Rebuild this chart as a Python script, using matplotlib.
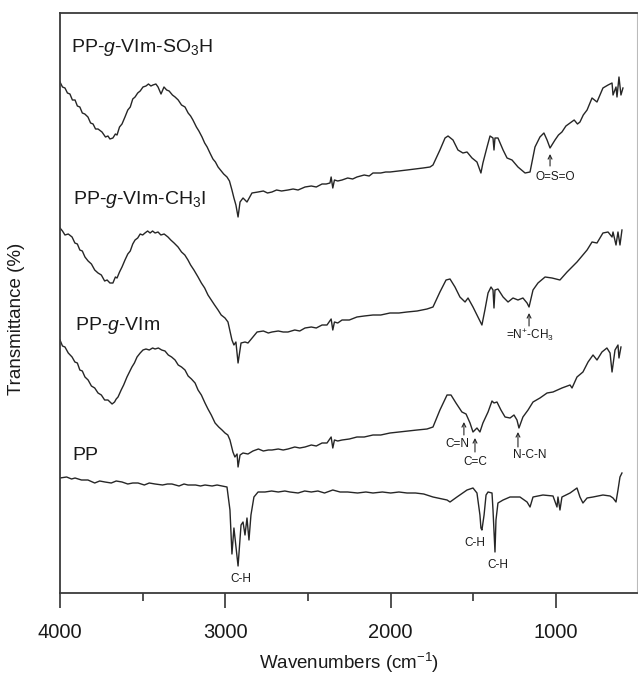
import numpy as np
import matplotlib
matplotlib.use("Agg")
import matplotlib.pyplot as plt

plt.rcParams['font.family'] = ['Liberation Sans', 'DejaVu Sans']
plt.rcParams['mathtext.fontset'] = 'custom'
plt.rcParams['mathtext.rm'] = 'Liberation Sans'
plt.rcParams['mathtext.it'] = 'Liberation Sans:italic'
plt.rcParams['mathtext.bf'] = 'Liberation Sans:bold'

# FTIR spectra, stacked (arbitrary transmittance units)
wn_so3h = [4000, 3985, 3970, 3955, 3940, 3925, 3909, 3895, 3880, 3865, 3850, 3831, 3815,
           3800, 3785, 3770, 3746, 3725, 3710, 3698, 3680, 3665, 3655, 3640, 3625, 3607,
           3590, 3575, 3560, 3546, 3530, 3515, 3498, 3480, 3465, 3450, 3438, 3420, 3407,
           3389, 3371, 3355, 3340, 3320, 3304, 3285, 3265, 3244, 3225, 3210, 3196, 3175,
           3160, 3141, 3125, 3110, 3093, 3075, 3060, 3044, 3025, 3010, 2990, 2975, 2960,
           2948, 2936, 2923, 2911, 2893, 2869, 2839, 2802, 2770, 2745, 2718, 2690, 2660,
           2621, 2590, 2560, 2518, 2480, 2450, 2415, 2390, 2367, 2360, 2350, 2340, 2320,
           2294, 2260, 2230, 2204, 2160, 2130, 2107, 2060, 2030, 2004, 1950, 1901, 1850,
           1804, 1762, 1744, 1702, 1671, 1653, 1623, 1593, 1563, 1538, 1508, 1478, 1454,
           1442, 1417, 1399, 1381, 1375, 1369, 1351, 1320, 1296, 1266, 1230, 1187, 1157,
           1127, 1097, 1073, 1054, 1036, 1006, 985, 964, 940, 915, 890, 870, 855, 835, 812,
           782, 752, 716, 685, 661, 655, 637, 631, 619, 607, 595]
t_so3h = [51.1, 50.6, 50.5, 50.0, 49.9, 49.3, 49.3, 48.7, 48.6, 48.0, 47.9, 47.6, 47.0,
          46.9, 46.4, 46.4, 46.1, 45.6, 45.7, 45.4, 45.5, 45.9, 45.8, 46.6, 46.9, 47.6,
          48.3, 48.6, 49.4, 49.6, 50.0, 50.2, 50.6, 50.7, 50.9, 50.7, 50.8, 50.9, 50.6,
          49.9, 50.6, 50.3, 50.2, 49.8, 49.6, 49.3, 48.8, 48.6, 48.0, 47.7, 47.3, 46.6,
          46.2, 45.6, 45.0, 44.6, 44.0, 43.4, 43.1, 42.6, 42.2, 41.9, 41.6, 41.2, 40.3,
          39.5, 38.8, 37.6, 39.1, 39.5, 39.1, 40.0, 40.1, 40.2, 40.0, 40.1, 40.3, 40.2,
          40.3, 40.4, 40.3, 40.6, 40.7, 40.6, 40.9, 40.9, 41.0, 41.6, 40.5, 41.3, 41.2,
          41.3, 41.5, 41.4, 41.6, 41.8, 41.7, 42.0, 42.0, 42.1, 42.1, 42.2, 42.3, 42.4,
          42.5, 42.6, 42.8, 44.3, 45.5, 45.7, 45.3, 44.3, 44.0, 44.1, 43.5, 43.1, 42.0,
          43.0, 44.6, 45.7, 45.5, 44.3, 45.5, 45.5, 44.3, 43.5, 43.3, 42.6, 42.0, 42.1,
          44.6, 45.6, 46.0, 45.3, 44.5, 45.3, 45.8, 46.1, 46.7, 47.0, 47.3, 46.9, 47.1, 47.8, 48.3,
          49.5, 49.1, 50.5, 50.8, 51.0, 49.8, 50.6, 49.6, 51.6, 49.8, 50.5]

wn_ch3i = [4000, 3985, 3970, 3950, 3927, 3910, 3895, 3880, 3865, 3849, 3830, 3810, 3790,
           3770, 3750, 3730, 3715, 3698, 3680, 3665, 3655, 3640, 3625, 3607, 3590, 3575,
           3560, 3546, 3530, 3515, 3500, 3486, 3470, 3455, 3440, 3425, 3407, 3390, 3370,
           3347, 3330, 3310, 3286, 3265, 3245, 3226, 3210, 3190, 3165, 3145, 3125, 3105,
           3085, 3065, 3044, 3025, 3002, 2984, 2960, 2948, 2936, 2923, 2905, 2881, 2863,
           2833, 2808, 2770, 2740, 2718, 2680, 2650, 2621, 2580, 2550, 2518, 2480, 2450,
           2415, 2385, 2360, 2350, 2340, 2320, 2294, 2250, 2204, 2160, 2107, 2060, 2004,
           1950, 1901, 1840, 1780, 1744, 1702, 1665, 1641, 1611, 1581, 1550, 1532, 1502,
           1472, 1448, 1430, 1411, 1393, 1381, 1375, 1369, 1351, 1320, 1290, 1260, 1230,
           1200, 1175, 1163, 1139, 1109, 1066, 1024, 976, 933, 873, 812, 782, 752, 716, 685,
           661, 655, 637, 625, 613, 601]
t_ch3i = [36.5, 36.2, 35.8, 35.9, 35.6, 35.0, 34.9, 34.3, 34.2, 33.6, 33.2, 32.9, 32.3,
          32.0, 31.8, 31.2, 31.3, 31.0, 31.0, 31.6, 31.5, 32.1, 32.6, 33.3, 33.9, 34.2,
          34.9, 35.3, 35.5, 35.9, 35.8, 36.0, 36.2, 36.0, 36.2, 36.0, 36.1, 35.8, 35.9,
          35.6, 35.3, 35.0, 34.6, 34.1, 33.8, 33.3, 32.8, 32.3, 31.6, 31.0, 30.5, 29.8,
          29.3, 28.8, 28.3, 27.8, 27.5, 27.1, 25.3, 24.8, 25.1, 23.0, 25.0, 25.1, 25.0,
          25.6, 26.1, 26.2, 26.0, 26.1, 26.2, 26.1, 26.1, 26.3, 26.2, 26.5, 26.6, 26.5,
          26.8, 26.8, 27.4, 26.3, 27.1, 27.0, 27.3, 27.3, 27.6, 27.7, 27.8, 27.8, 28.0,
          28.0, 28.1, 28.2, 28.4, 28.6, 30.1, 31.3, 31.4, 30.6, 29.6, 29.1, 29.5, 28.6,
          27.6, 26.8, 28.3, 30.0, 30.6, 30.3, 28.5, 30.3, 30.4, 29.6, 29.1, 29.5, 29.3,
          29.5, 29.0, 28.6, 30.3, 31.0, 31.6, 31.5, 31.3, 32.1, 33.1, 34.3, 35.1, 35.0, 36.0, 36.1,
          35.6, 36.1, 34.8, 36.1, 34.8, 36.3]

wn_vim = [4000, 3985, 3970, 3950, 3927, 3910, 3895, 3880, 3865, 3849, 3830, 3810, 3790,
          3770, 3750, 3730, 3710, 3685, 3670, 3660, 3649, 3630, 3615, 3595, 3580, 3565,
          3550, 3534, 3515, 3498, 3480, 3460, 3440, 3425, 3405, 3385, 3365, 3345, 3325,
          3304, 3285, 3265, 3244, 3225, 3205, 3183, 3165, 3145, 3123, 3105, 3085, 3062,
          3040, 3020, 3002, 2985, 2972, 2954, 2942, 2929, 2923, 2911, 2893, 2863, 2833,
          2800, 2770, 2740, 2718, 2680, 2650, 2621, 2580, 2550, 2518, 2480, 2450, 2415,
          2385, 2360, 2350, 2340, 2320, 2294, 2250, 2204, 2160, 2107, 2060, 2004, 1950,
          1901, 1840, 1780, 1744, 1702, 1659, 1635, 1605, 1569, 1544, 1520, 1502, 1478,
          1460, 1442, 1411, 1387, 1375, 1357, 1333, 1308, 1278, 1254, 1236, 1224, 1200,
          1169, 1139, 1097, 1054, 1018, 964, 915, 903, 873, 837, 806, 776, 752, 722, 692,
          673, 661, 643, 625, 619, 607]
t_vim = [25.3, 24.7, 24.6, 24.0, 23.6, 23.1, 23.0, 22.3, 22.2, 21.6, 21.3, 20.7, 20.5,
         20.0, 19.8, 19.3, 19.3, 18.9, 19.1, 19.4, 19.6, 20.3, 20.8, 21.6, 22.1, 22.6,
         23.0, 23.6, 24.0, 24.3, 24.4, 24.3, 24.5, 24.4, 24.5, 24.3, 24.2, 23.8, 23.6,
         23.3, 22.8, 22.6, 22.3, 21.7, 21.4, 21.0, 20.3, 19.8, 19.0, 18.4, 17.8, 17.0,
         16.6, 16.3, 16.0, 15.8, 15.3, 14.1, 13.6, 13.9, 12.6, 13.8, 14.0, 13.9, 14.2,
         14.4, 14.2, 14.3, 14.3, 14.4, 14.3, 14.4, 14.6, 14.5, 14.6, 14.8, 14.7, 15.0,
         15.0, 15.6, 14.5, 15.3, 15.2, 15.3, 15.4, 15.6, 15.6, 15.8, 15.8, 16.0, 16.1,
         16.2, 16.3, 16.4, 16.6, 18.3, 19.8, 19.8, 19.0, 18.1, 17.9, 17.0, 16.1, 16.5,
         16.1, 17.0, 18.1, 19.2, 19.0, 19.1, 18.3, 17.6, 17.5, 17.8, 17.3, 16.5, 17.6,
         18.3, 19.1, 19.5, 20.0, 20.1, 20.5, 20.8, 20.5, 21.6, 22.1, 23.1, 23.8, 23.3, 24.1, 24.5,
         24.0, 22.1, 24.3, 24.8, 23.5, 24.6]

wn_pp = [4000, 3960, 3930, 3909, 3870, 3831, 3790, 3760, 3728, 3690, 3660, 3625, 3590,
         3560, 3528, 3490, 3460, 3425, 3380, 3350, 3323, 3280, 3250, 3226, 3180, 3150,
         3123, 3080, 3050, 3020, 2990, 2972, 2960, 2948, 2923, 2905, 2893, 2881, 2869,
         2857, 2845, 2827, 2802, 2760, 2720, 2680, 2640, 2609, 2560, 2520, 2480, 2440,
         2400, 2350, 2306, 2260, 2200, 2150, 2107, 2050, 2000, 1950, 1901, 1850, 1800,
         1744, 1659, 1641, 1599, 1538, 1502, 1478, 1460, 1454, 1448, 1435, 1423, 1411,
         1387, 1381, 1369, 1363, 1351, 1320, 1278, 1218, 1175, 1157, 1139, 1079, 1018,
         994, 988, 976, 964, 915, 873, 855, 837, 812, 776, 716, 673, 655, 637, 625, 613, 601]
t_pp = [11.5, 11.6, 11.4, 11.5, 11.3, 11.3, 11.0, 11.2, 11.1, 11.0, 11.2, 11.1, 10.9,
        11.0, 11.0, 10.8, 11.0, 10.9, 10.8, 10.9, 10.9, 10.7, 10.9, 10.8, 10.8, 10.7,
        10.8, 10.7, 10.8, 10.7, 10.6, 8.3, 3.9, 6.5, 2.7, 6.8, 7.1, 5.8, 7.5,
        5.3, 7.8, 9.6, 10.1, 10.1, 10.2, 10.1, 10.2, 10.1, 10.0, 10.2, 10.1, 10.2,
        10.0, 10.3, 10.1, 10.1, 10.0, 10.1, 10.0, 10.1, 10.0, 10.1, 10.0, 10.0, 9.9,
        9.6, 9.3, 9.1, 9.6, 10.3, 10.5, 10.0, 7.8, 6.5, 6.3, 7.8, 9.8, 10.1,
        10.0, 8.3, 4.1, 7.3, 9.0, 9.3, 9.6, 9.6, 9.1, 8.6, 9.6, 9.8, 9.7,
        8.6, 9.6, 8.3, 9.6, 10.0, 10.5, 9.6, 9.0, 9.5, 9.6, 9.8, 9.7, 9.5, 9.1, 10.3, 11.6, 12.0]

series = [
    (wn_so3h, t_so3h, r'PP-$\it{g}$-VIm-SO$_3$H', (3933, 54.6)),
    (wn_ch3i, t_ch3i, r'PP-$\it{g}$-VIm-CH$_3$I', (3921, 39.3)),
    (wn_vim, t_vim, r'PP-$\it{g}$-VIm', (3909, 26.7)),
    (wn_pp, t_pp, 'PP', (3927, 13.8)),
]

# band assignments: (label, arrow wavenumber, arrow tip, arrow tail, label x, label y)
arrows = [
    ('O=S=O', 1036, 43.9, 42.7, 1006, 41.6),
    (r'=N$^{+}$-CH$_3$', 1163, 28.0, 26.7, 1157, 25.8),
    ('C=N', 1557, 17.1, 15.8, 1599, 14.9),
    ('C=C', 1490, 15.5, 14.1, 1490, 13.1),
    ('N-C-N', 1230, 16.1, 14.6, 1157, 13.8),
]
plain_labels = [('C-H', 2905, 1.4), ('C-H', 1490, 5.0), ('C-H', 1351, 2.8)]

fig = plt.figure(figsize=(6.38, 6.74), dpi=100)
ax = fig.add_axes([60 / 638, 81 / 674, 577 / 638, 580 / 674])

for wn, t, name, (lx, ly) in series:
    ax.plot(wn, t, color='#262626', linewidth=1.0)
    ax.text(lx, ly, name, fontsize=14, ha='left', va='center', color='#1a1a1a')

for name, xa, ytip, ytail, tx, ty in arrows:
    ax.annotate('', xy=(xa, ytip), xytext=(xa, ytail),
                arrowprops=dict(arrowstyle='->', color='#262626', lw=0.8,
                                shrinkA=0, shrinkB=0, mutation_scale=7))
    ax.text(tx, ty, name, fontsize=8.5, ha='center', va='center', color='#1a1a1a')

for name, tx, ty in plain_labels:
    ax.text(tx, ty, name, fontsize=8.5, ha='center', va='center', color='#1a1a1a')

ax.set_xlim(4000, 510)
ax.set_ylim(0, 58)
ax.set_xticks([4000, 3000, 2000, 1000])
ax.set_xticks([3500, 2500, 1500], minor=True)
ax.set_yticks([])
ax.tick_params(axis='x', which='major', direction='out', length=10.8, width=1.2,
               labelsize=14.5, pad=11, color='#333333', labelcolor='#1a1a1a')
ax.tick_params(axis='x', which='minor', direction='out', length=5.8, width=1.2,
               color='#333333')

for side in ['left', 'bottom', 'top']:
    ax.spines[side].set_color('#3a3a3a')
    ax.spines[side].set_linewidth(1.3)
ax.spines['right'].set_color('#bbbbbb')
ax.spines['right'].set_linewidth(0.8)

fig.text(349 / 638, 1 - 663 / 674, r'Wavenumbers (cm$^{-1}$)', fontsize=13.5,
         ha='center', va='center', color='#1a1a1a')
fig.text(17 / 638, 1 - 319 / 674, 'Transmittance (%)', fontsize=13.5, rotation=90,
         ha='center', va='center', color='#1a1a1a')

fig.savefig('out.png', dpi=100)
